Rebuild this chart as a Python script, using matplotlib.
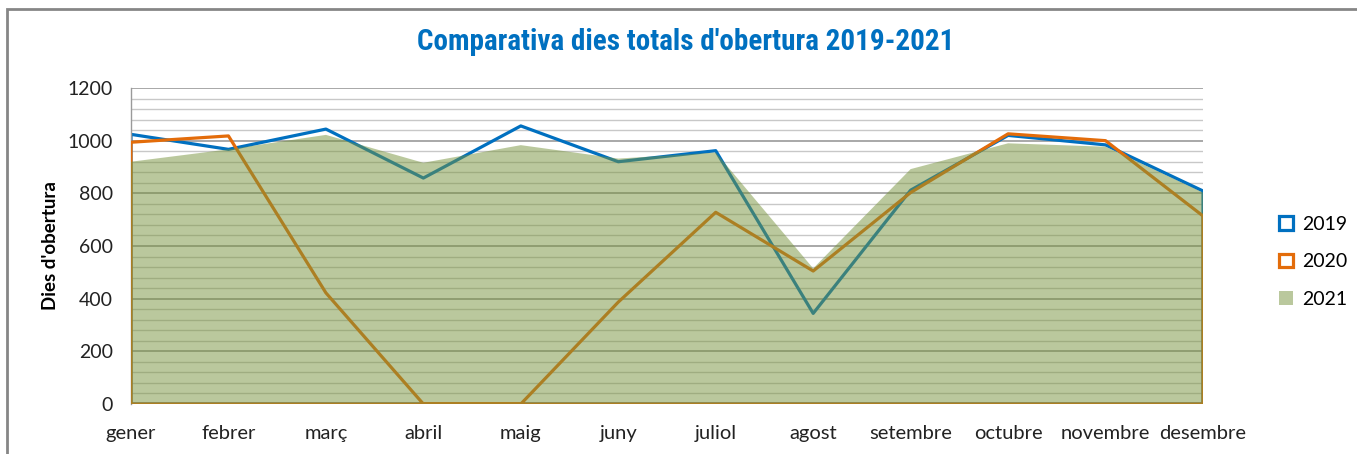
import numpy as np
import matplotlib
matplotlib.use("Agg")
import matplotlib.pyplot as plt
from matplotlib.patches import Rectangle

# values
months = ["gener", "febrer", "març", "abril", "maig", "juny",
          "juliol", "agost", "setembre", "octubre", "novembre", "desembre"]
dies_2019 = [1024, 967, 1044, 858, 1056, 920, 962, 344, 812, 1020, 984, 809]
dies_2020 = [994, 1018, 422, 0, 0, 387, 728, 505, 803, 1026, 1000, 714]
dies_2021 = [920, 967, 1022, 916, 983, 932, 955, 515, 892, 990, 977, 803]

blue = "#0070C0"
orange = "#E36C0A"
olive = "#77933C"

plt.rcParams["font.family"] = ["Lato", "DejaVu Sans"]

fig = plt.figure(figsize=(13.57, 4.54), dpi=100)
ax = fig.add_axes([131 / 1357, 50 / 454, 1072 / 1357, 316 / 454])

x = np.arange(len(months))

# grid: minor every 40, major every 200
for v in range(0, 1201, 40):
    major = v % 200 == 0
    ax.axhline(v, color="#9A9A9A" if major else "#C8C8C8",
               lw=1.2 if major else 1.0, zorder=0.5)

# 2019 and 2020 are outlined areas (no fill), 2021 is a translucent fill
ax.fill_between(x, dies_2019, 0, facecolor="none", edgecolor=blue,
                lw=2.3, zorder=2, label="2019")
ax.fill_between(x, dies_2020, 0, facecolor="none", edgecolor=orange,
                lw=2.3, zorder=3, label="2020")
ax.fill_between(x, dies_2021, 0, facecolor=olive, edgecolor="none",
                alpha=0.5, zorder=4, label="2021")

ax.set_xlim(0, len(months) - 1)
ax.set_ylim(0, 1200)
ax.set_yticks(range(0, 1201, 200))
ax.set_xticks(x)
ax.set_xticklabels(months)
ax.tick_params(axis="both", length=0, colors="#222222")
ax.tick_params(axis="x", pad=15, labelsize=14.5)
ax.tick_params(axis="y", pad=13, labelsize=14)

for side in ["top", "right", "bottom"]:
    ax.spines[side].set_visible(False)
ax.spines["left"].set_color("#9A9A9A")
ax.spines["left"].set_linewidth(1.0)

ax.set_ylabel("Dies d'obertura", fontsize=13.5, fontweight="bold", labelpad=6)

fig.text(686 / 1357, 1 - 42 / 454, "Comparativa dies totals d'obertura 2019-2021",
         ha="center", va="center", fontsize=21, fontweight="bold", color=blue,
         fontstretch="condensed",
         family=["Roboto Condensed", "Liberation Sans Narrow", "DejaVu Sans"])

leg = ax.legend(loc="center left", bbox_to_anchor=(1.055, 0.45), frameon=False,
                fontsize=14, handlelength=0.7, handleheight=0.7,
                labelspacing=1.05, handletextpad=0.45)

# outer chart border
fig.patches.append(Rectangle((7 / 1357, -0.05), 1.1, 1 - 9 / 454 + 0.05,
                             transform=fig.transFigure, fill=False,
                             edgecolor="#868686", lw=2))

fig.savefig("out.png", dpi=100)
